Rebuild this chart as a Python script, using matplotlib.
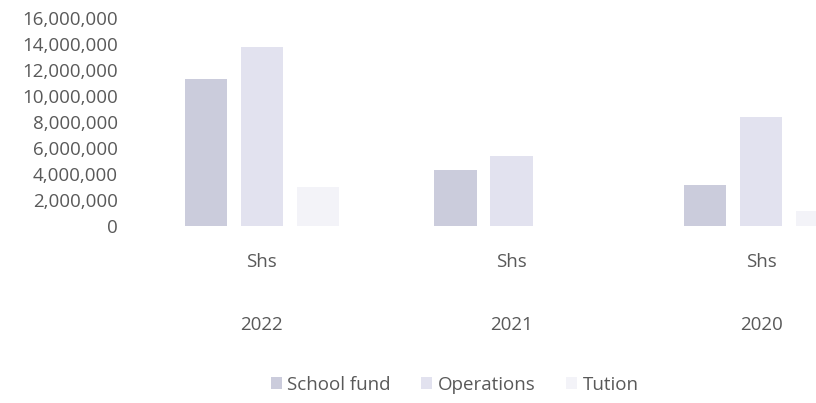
import numpy as np
import matplotlib.pyplot as plt
import matplotlib.ticker as mticker

years = ['2022', '2021', '2020']
unit = 'Shs'
school_fund = [11300000, 4300000, 3100000]
operations = [13800000, 5400000, 8400000]
tution = [3000000, 0, 1100000]

plt.rcParams['font.family'] = ['Open Sans', 'DejaVu Sans']
grey = '#595959'

fig = plt.figure(figsize=(8.16, 4.03), dpi=100)
ax = fig.add_axes([0.168, 0.44, 0.832, 0.515])

x = np.arange(len(years))
w = 0.17
step = 0.225
ax.bar(x - step, school_fund, w, color='#cbccdc', label='School fund')
ax.bar(x, operations, w, color='#e2e2ef', label='Operations')
ax.bar(x + step, tution, w, color='#f3f3f8', label='Tution')

ax.set_xlim(-0.5, 2.22)
ax.set_ylim(0, 16000000)
ax.set_yticks(np.arange(0, 16000001, 2000000))
ax.yaxis.set_major_formatter(mticker.FuncFormatter(lambda v, p: f'{int(v):,}'))
ax.tick_params(axis='y', length=0, labelsize=13.5, labelcolor=grey, pad=14)
ax.set_xticks([])
for s in ax.spines.values():
    s.set_visible(False)

tr = ax.get_xaxis_transform()
for i, yr in enumerate(years):
    ax.text(x[i], -0.173, unit, transform=tr, ha='center', va='center', fontsize=13.5, color=grey)
    ax.text(x[i], -0.477, yr, transform=tr, ha='center', va='center', fontsize=13.5, color=grey)

fig.legend(loc='center', bbox_to_anchor=(0.557, 0.045), ncol=3, frameon=False,
           fontsize=13.5, labelcolor=grey, handlelength=0.6, handleheight=0.6,
           handletextpad=0.3, columnspacing=1.6)

fig.savefig('out.png', dpi=100)
